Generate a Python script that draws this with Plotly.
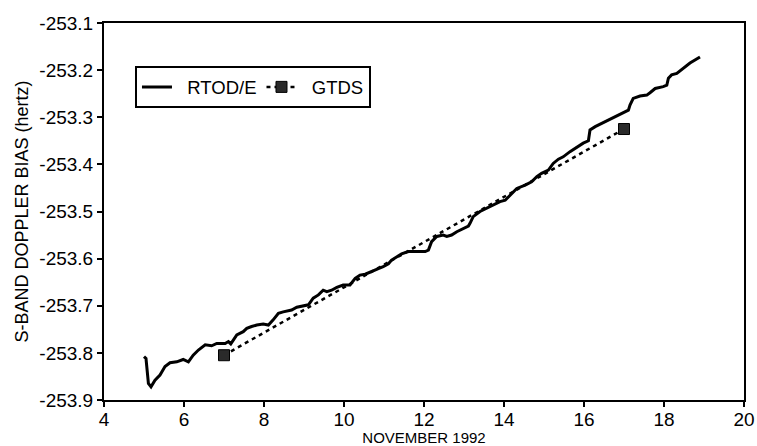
import plotly.graph_objects as go

# RTOD/E estimate of S-band Doppler bias (day of November 1992, hertz)
rtod_day = [5.00, 5.05, 5.11, 5.175, 5.275, 5.40, 5.525, 5.65, 5.82, 5.98,
            6.11, 6.23, 6.36, 6.53, 6.69, 6.82, 7.03, 7.11, 7.17, 7.32,
            7.48, 7.57, 7.69, 7.82, 7.98, 8.11, 8.23, 8.36, 8.48, 8.69,
            8.82, 8.98, 9.11, 9.23, 9.36, 9.48, 9.57, 9.69, 9.82, 9.98,
            10.15, 10.28, 10.40, 10.53, 10.69, 10.86, 10.98, 11.11, 11.19, 11.32,
            11.44, 11.61, 11.78, 12.03, 12.11, 12.19, 12.32, 12.48, 12.57, 12.69,
            12.82, 12.98, 13.11, 13.15, 13.23, 13.40, 13.57, 13.73, 13.90, 14.03,
            14.15, 14.32, 14.53, 14.69, 14.82, 14.94, 15.11, 15.23, 15.36, 15.48,
            15.65, 15.82, 15.98, 16.11, 16.15, 16.28, 16.44, 16.61, 16.78, 16.94,
            17.11, 17.15, 17.23, 17.40, 17.57, 17.65, 17.78, 17.98, 18.07, 18.11,
            18.19, 18.32, 18.48, 18.65, 18.90]
rtod_bias = [-253.808, -253.812, -253.865, -253.872, -253.858, -253.847, -253.829, -253.821, -253.819, -253.814,
             -253.819, -253.805, -253.794, -253.783, -253.785, -253.780, -253.780, -253.776, -253.781, -253.762,
             -253.755, -253.748, -253.744, -253.741, -253.739, -253.741, -253.730, -253.716, -253.713, -253.709,
             -253.703, -253.701, -253.698, -253.684, -253.677, -253.667, -253.670, -253.667, -253.661, -253.656,
             -253.656, -253.642, -253.635, -253.633, -253.628, -253.621, -253.617, -253.611, -253.603, -253.596,
             -253.590, -253.585, -253.585, -253.585, -253.582, -253.564, -253.553, -253.550, -253.553, -253.550,
             -253.543, -253.536, -253.531, -253.525, -253.511, -253.500, -253.493, -253.486, -253.479, -253.476,
             -253.465, -253.451, -253.444, -253.437, -253.426, -253.419, -253.412, -253.398, -253.389, -253.384,
             -253.373, -253.363, -253.355, -253.350, -253.327, -253.320, -253.313, -253.306, -253.299, -253.292,
             -253.285, -253.274, -253.260, -253.255, -253.253, -253.248, -253.239, -253.235, -253.232, -253.217,
             -253.210, -253.207, -253.196, -253.185, -253.172]

# GTDS solutions
gtds_day = [7.0, 17.0]
gtds_bias = [-253.805, -253.325]

# Axis ticks
x_ticks = [4, 6, 8, 10, 12, 14, 16, 18, 20]
x_ticklabels = ["4", "6", "8", "10", "12", "14", "16", "18", "20"]
y_ticks = [-253.9, -253.8, -253.7, -253.6, -253.5, -253.4, -253.3, -253.2, -253.1]
y_ticklabels = ["-253.9", "-253.8", "-253.7", "-253.6", "-253.5", "-253.4", "-253.3", "-253.2", "-253.1"]

FONT = "Liberation Sans, Arial, sans-serif"
NB = "\u00a0\u00a0"

fig = go.Figure()
fig.add_trace(go.Scatter(
    x=rtod_day, y=rtod_bias, mode="lines", name=NB + "RTOD/E",
    line=dict(color="black", width=3),
))
fig.add_trace(go.Scatter(
    x=gtds_day, y=gtds_bias, mode="lines+markers", name=NB + "GTDS",
    line=dict(color="black", width=2.5, dash="4px,4px"),
    marker=dict(symbol="square", size=11, color="#2a2a2a",
                line=dict(color="black", width=1)),
))

fig.update_layout(
    width=757, height=446,
    paper_bgcolor="white", plot_bgcolor="white",
    margin=dict(l=104, r=13, t=23, b=46),
    font=dict(family=FONT, color="black", size=18),
    showlegend=True,
    legend=dict(
        orientation="h", x=0.0484, y=0.885, xanchor="left", yanchor="top",
        bordercolor="black", borderwidth=2, bgcolor="white",
        font=dict(family=FONT, size=18.5, color="black"),
        itemwidth=30,
    ),
    xaxis=dict(
        range=[4, 20], tickvals=x_ticks, ticktext=x_ticklabels,
        showgrid=False, zeroline=False, automargin=False,
        showline=True, linecolor="black", linewidth=2, mirror=True,
        ticks="outside", ticklen=5, tickwidth=1.5, tickcolor="black",
        ticklabelstandoff=-4,
        tickfont=dict(family=FONT, size=19, color="black"),
        title=dict(text="NOVEMBER 1992", font=dict(family=FONT, size=15, color="black"),
                   standoff=2),
    ),
    yaxis=dict(
        range=[-253.9, -253.1], tickvals=y_ticks, ticktext=y_ticklabels,
        showgrid=False, zeroline=False, automargin=False,
        showline=True, linecolor="black", linewidth=2, mirror=True,
        ticks="outside", ticklen=5, tickwidth=1.5, tickcolor="black",
        tickfont=dict(family=FONT, size=19, color="black"),
        title=dict(text="S-BAND DOPPLER BIAS (hertz)",
                   font=dict(family=FONT, size=18, color="black"), standoff=6),
    ),
)

fig.write_html(
    "out.html",
    config={"displayModeBar": False},
    post_script="document.body.style.margin='0px';document.body.style.padding='0px';",
)
